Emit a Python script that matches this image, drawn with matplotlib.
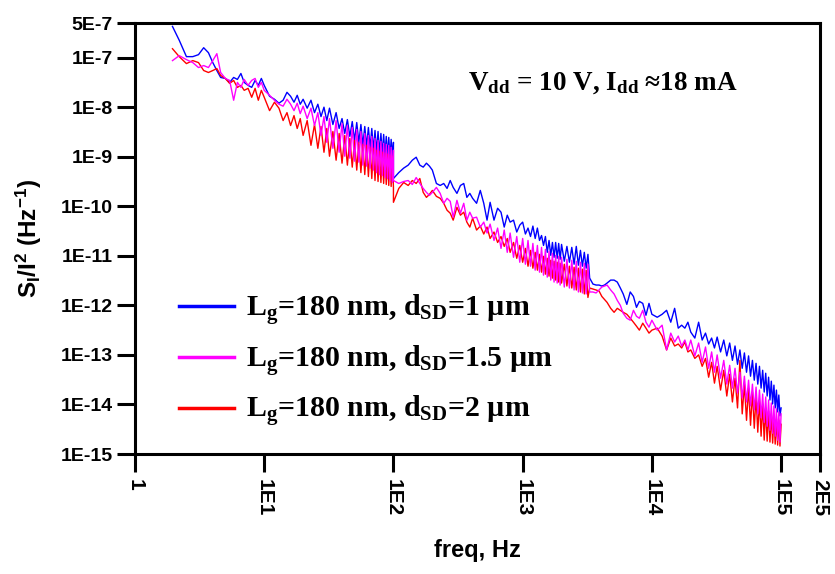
import numpy as np
import matplotlib
matplotlib.use('Agg')
import matplotlib.pyplot as plt

plt.rcParams['font.family'] = 'Liberation Sans'
plt.rcParams['font.weight'] = 'bold'
plt.rcParams['mathtext.fontset'] = 'custom'
plt.rcParams['mathtext.rm'] = 'Liberation Serif:bold'
plt.rcParams['mathtext.it'] = 'Liberation Serif:bold'
plt.rcParams['mathtext.bf'] = 'Liberation Serif:bold'
plt.rcParams['mathtext.sf'] = 'Liberation Sans:bold'

# frequency grids of the three measurement ranges (Hz)
freq_lo = [1.95, 2.2, 2.5, 2.8, 3.1, 3.4, 3.7, 4.0, 4.3, 4.6, 5.0, 5.4, 5.8, 6.2, 6.6, 7.0, 7.5, 8.0, 8.5, 9.0,
           9.5, 10, 11, 12, 13, 14, 15, 16, 17, 18, 19, 20, 21.5, 23, 24.5, 26, 27.5, 29, 30.5, 32,
           34, 36, 38, 40, 42, 44, 46, 48, 50, 52, 54, 56, 58, 60, 62, 64, 66, 68, 70, 72,
           74, 76, 78, 80, 82, 84, 86, 88, 90, 92, 94, 96, 98, 100]
freq_mid = [100, 110, 120, 130, 140, 150, 160, 170, 180, 190, 200, 215, 230, 245, 260, 275, 290, 310, 330, 350,
            370, 390, 410, 440, 470, 500, 530, 560, 600, 640, 680, 720, 760, 800, 850, 900, 950, 1000, 1050, 1100,
            1150, 1200, 1250, 1300, 1350, 1400, 1450, 1500, 1550, 1600, 1650, 1700, 1750, 1800, 1850, 1900, 1950, 2000,
            2100, 2200, 2300, 2400, 2500, 2600, 2700, 2800, 2900, 3000, 3100, 3200]
freq_hi = [3300, 3500, 3700, 3900, 4100, 4300, 4500, 4800, 5100, 5400, 5700, 6000, 6400, 6800, 7200, 7600, 8000,
           8500, 9000, 9500, 10000, 11000, 12000, 13000, 14000, 15000, 16000, 17000, 18000, 19000, 20000, 21500,
           23000, 24500, 26000, 27500, 29000, 30500, 32000, 34000, 36000, 38000, 40000, 42000, 44000, 46000, 48000,
           50000, 52000, 54000, 56000, 58000, 60000, 62000, 64000, 66000, 68000, 70000, 72000, 74000, 76000, 78000,
           80000, 82000, 84000, 86000, 88000, 90000, 92000, 94000, 96000, 98000, 100000]

# log10(S_I/I^2), dSD = 1 um (blue)
blue_lo = [-6.37, -6.65, -6.98, -6.98, -6.94, -6.80, -6.90, -7.10, -7.26, -7.40,
           -7.42, -7.50, -7.40, -7.44, -7.32, -7.50, -7.56, -7.60, -7.46, -7.56,
           -7.42, -7.56, -7.78, -7.84, -7.92, -7.86, -7.70, -7.78, -7.90, -7.76,
           -7.94, -7.84, -8.02, -7.86, -8.11, -7.94, -8.19, -8.00, -8.27, -8.02,
           -8.35, -8.11, -8.43, -8.23, -8.53, -8.25, -8.59, -8.29, -8.67, -8.31,
           -8.71, -8.35, -8.77, -8.39, -8.79, -8.41, -8.83, -8.43, -8.87, -8.47,
           -8.91, -8.49, -8.93, -8.53, -8.97, -8.55, -8.99, -8.59, -9.01, -8.61,
           -9.03, -8.65, -9.07, -8.71]
blue_mid = [-9.44, -9.32, -9.23, -9.17, -9.07, -9.01, -9.17, -9.21, -9.13, -9.19,
            -9.27, -9.54, -9.58, -9.54, -9.64, -9.48, -9.62, -9.74, -9.58, -9.54,
            -9.82, -9.74, -9.84, -9.94, -9.68, -9.94, -10.28, -9.92, -10.28, -10.04,
            -10.12, -10.42, -10.18, -10.32, -10.28, -10.52, -10.38, -10.32, -10.56, -10.44,
            -10.61, -10.40, -10.65, -10.44, -10.69, -10.59, -10.79, -10.61, -10.93, -10.69,
            -10.99, -10.73, -11.03, -10.73, -11.05, -10.75, -11.07, -10.77, -11.11, -10.81,
            -11.13, -10.83, -11.17, -10.81, -11.19, -10.89, -11.21, -10.93, -11.25, -10.97]
blue_hi = [-11.45, -11.57, -11.59, -11.59, -11.61, -11.59, -11.55, -11.49, -11.49, -11.53,
           -11.65, -11.77, -11.98, -11.73, -11.82, -12.04, -11.92, -11.96, -12.20, -11.96,
           -12.18, -12.24, -12.18, -12.10, -12.34, -12.06, -12.46, -12.40, -12.46, -12.34,
           -12.54, -12.66, -12.34, -12.70, -12.56, -12.78, -12.66, -12.86, -12.64, -12.94,
           -12.70, -13.02, -12.76, -13.11, -12.82, -13.19, -12.90, -13.27, -12.96, -13.35,
           -13.02, -13.43, -13.11, -13.51, -13.17, -13.59, -13.23, -13.67, -13.31, -13.75,
           -13.37, -13.83, -13.45, -13.91, -13.53, -13.99, -13.61, -14.07, -13.71, -14.15,
           -13.81, -14.23, -14.07]

# dSD = 1.5 um (magenta)
magenta_lo = [-7.06, -6.96, -7.04, -7.10, -7.20, -7.16, -7.20, -7.06, -6.92, -7.30,
              -7.42, -7.46, -7.86, -7.50, -7.60, -7.44, -7.56, -7.46, -7.42, -7.60,
              -7.50, -7.66, -7.76, -7.86, -7.94, -7.98, -7.84, -7.94, -8.07, -7.92,
              -8.13, -7.98, -8.23, -8.02, -8.37, -8.11, -8.57, -8.19, -8.71, -8.23,
              -8.83, -8.27, -8.91, -8.33, -8.99, -8.37, -9.03, -8.41, -9.09, -8.45,
              -9.11, -8.49, -9.17, -8.53, -9.19, -8.57, -9.23, -8.59, -9.27, -8.63,
              -9.32, -8.67, -9.36, -8.69, -9.38, -8.73, -9.42, -8.75, -9.44, -8.77,
              -9.48, -8.81, -9.52, -8.87]
magenta_mid = [-9.48, -9.54, -9.50, -9.48, -9.56, -9.42, -9.54, -9.64, -9.72, -9.78,
               -9.72, -9.62, -9.74, -9.94, -9.84, -9.90, -10.22, -9.88, -10.14, -9.94,
               -10.28, -10.12, -10.24, -10.22, -10.42, -10.32, -10.54, -10.36, -10.69, -10.44,
               -10.85, -10.48, -10.93, -10.54, -11.03, -10.61, -11.13, -10.65, -11.17, -10.69,
               -11.21, -10.75, -11.29, -10.79, -11.33, -10.83, -11.39, -10.87, -11.43, -10.91,
               -11.49, -10.95, -11.53, -10.99, -11.55, -11.01, -11.59, -11.03, -11.63, -11.07,
               -11.65, -11.09, -11.69, -11.11, -11.73, -11.13, -11.75, -11.15, -11.77, -11.17]
magenta_hi = [-11.73, -11.73, -11.75, -11.69, -11.63, -11.61, -11.59, -11.69, -11.77, -11.90,
              -12.00, -12.16, -12.26, -12.30, -12.10, -12.22, -12.26, -12.10, -12.34, -12.44,
              -12.30, -12.50, -12.40, -12.90, -12.56, -12.74, -12.62, -12.82, -12.70, -12.90,
              -12.70, -13.02, -12.76, -13.15, -12.84, -13.27, -12.94, -13.35, -13.00, -13.47,
              -13.11, -13.59, -13.21, -13.67, -13.27, -13.77, -13.35, -13.87, -13.43, -13.95,
              -13.51, -14.03, -13.59, -14.11, -13.65, -14.19, -13.71, -14.27, -13.79, -14.36,
              -13.85, -14.44, -13.91, -14.52, -13.97, -14.58, -14.03, -14.64, -14.09, -14.72,
              -14.15, -14.76, -14.19]

# dSD = 2 um (red)
red_lo = [-6.82, -6.98, -7.12, -7.06, -7.10, -7.26, -7.30, -7.26, -7.22, -7.36,
          -7.42, -7.52, -7.46, -7.60, -7.56, -7.66, -7.62, -7.80, -7.62, -7.86,
          -7.66, -7.80, -8.07, -7.90, -8.02, -8.27, -8.11, -8.37, -8.17, -8.43,
          -8.23, -8.57, -8.27, -8.77, -8.35, -8.83, -8.39, -8.91, -8.43, -8.99,
          -8.49, -9.07, -8.53, -9.13, -8.57, -9.17, -8.63, -9.21, -8.67, -9.27,
          -8.71, -9.32, -8.75, -9.36, -8.77, -9.40, -8.81, -9.44, -8.83, -9.48,
          -8.87, -9.50, -8.89, -9.52, -8.91, -9.54, -8.93, -9.56, -8.95, -9.58,
          -8.97, -9.60, -8.99, -9.62]
red_mid = [-9.92, -9.64, -9.52, -9.58, -9.48, -9.54, -9.44, -9.72, -9.82, -9.76,
           -9.68, -9.80, -9.84, -9.94, -10.08, -10.14, -10.28, -10.02, -10.18, -10.12,
           -10.32, -10.42, -10.24, -10.48, -10.40, -10.56, -10.42, -10.65, -10.52, -10.73,
           -10.61, -10.81, -10.65, -10.93, -10.73, -11.05, -10.79, -11.13, -10.85, -11.21,
           -10.89, -11.25, -10.93, -11.29, -10.97, -11.33, -11.01, -11.37, -11.05, -11.41,
           -11.09, -11.45, -11.11, -11.49, -11.13, -11.53, -11.15, -11.55, -11.17, -11.61,
           -11.21, -11.65, -11.23, -11.69, -11.25, -11.73, -11.27, -11.77, -11.29, -11.84]
red_hi = [-11.65, -11.67, -11.69, -11.71, -11.82, -11.88, -11.94, -12.06, -12.14, -12.06,
          -12.10, -12.14, -12.18, -12.26, -12.34, -12.42, -12.50, -12.36, -12.46, -12.56,
          -12.50, -12.46, -12.62, -12.90, -12.66, -12.82, -12.78, -12.86, -12.74, -12.94,
          -12.90, -13.07, -13.00, -13.23, -13.07, -13.45, -13.15, -13.57, -13.23, -13.71,
          -13.31, -13.83, -13.39, -13.95, -13.47, -14.07, -13.11, -14.19, -13.59, -14.32,
          -13.67, -14.42, -13.75, -14.48, -13.83, -14.56, -13.91, -14.64, -13.99, -14.72,
          -14.07, -14.74, -14.13, -14.76, -14.19, -14.78, -14.23, -14.80, -14.30, -14.82,
          -14.32, -14.84, -14.40]

labels = [r'$\mathrm{L_g}$=180 nm, $\mathrm{d_{SD}}$=1 µm',
          r'$\mathrm{L_g}$=180 nm, $\mathrm{d_{SD}}$=1.5 µm',
          r'$\mathrm{L_g}$=180 nm, $\mathrm{d_{SD}}$=2 µm']

xticks = [1, 1e1, 1e2, 1e3, 1e4, 1e5, 2e5]
xticklabels = ['1', '1E1', '1E2', '1E3', '1E4', '1E5', '2E5']
yticks = [1e-15, 1e-14, 1e-13, 1e-12, 1e-11, 1e-10, 1e-9, 1e-8, 1e-7, 5e-7]
yticklabels = ['1E-15', '1E-14', '1E-13', '1E-12', '1E-11', '1E-10', '1E-9', '1E-8', '1E-7', '5E-7']

freq = np.concatenate([freq_lo, freq_mid, freq_hi])
s_blue = 10 ** np.concatenate([blue_lo, blue_mid, blue_hi])
s_mag = 10 ** np.concatenate([magenta_lo, magenta_mid, magenta_hi])
s_red = 10 ** np.concatenate([red_lo, red_mid, red_hi])

fig = plt.figure(figsize=(8.35, 5.74), dpi=100)
ax = fig.add_axes([135 / 835, 1 - 454 / 574, 685 / 835, 431 / 574])

l_b, = ax.plot(freq, s_blue, color='#0000ff', lw=1.0)
l_r, = ax.plot(freq, s_red, color='#ff0000', lw=1.0)
l_m, = ax.plot(freq, s_mag, color='#ff00ff', lw=1.0)

ax.set_xscale('log')
ax.set_yscale('log')
ax.set_xlim(1, 2e5)
ax.set_ylim(1e-15, 5e-7)
ax.set_xticks(xticks)
ax.set_xticklabels(xticklabels, rotation=270, fontsize=15, fontweight='bold')
ax.set_yticks(yticks)
ax.set_yticklabels(yticklabels, fontsize=14, fontweight='bold')
ax.minorticks_off()
ax.tick_params(axis='both', direction='out', length=13, width=2.2, pad=3)
ax.tick_params(axis='x', pad=5)

for sp in ax.spines.values():
    sp.set_linewidth(2.2)

ax.set_xlabel('freq, Hz', fontsize=17, fontweight='bold', labelpad=16)
ax.set_ylabel(r'$\mathsf{S_I/I^2\ (Hz^{-1})}$', fontsize=17.5, labelpad=12)

leg = ax.legend([l_b, l_m, l_r], labels, loc='upper left', bbox_to_anchor=(0.047, 0.402),
                frameon=False, prop={'family': 'Liberation Serif', 'weight': 'bold', 'size': 21.5},
                handlelength=1.85, handletextpad=0.4, labelspacing=0.53, borderaxespad=0)
for h in leg.legend_handles:
    h.set_linewidth(2.5)

fig.text(0.722, 0.855, r'$\mathrm{V_{dd}}$ = 10 V, $\mathrm{I_{dd}}$ ≈18 mA', ha='center', va='center',
         fontsize=19.5, family='Liberation Serif', fontweight='bold')

fig.savefig('out.png', dpi=100)
